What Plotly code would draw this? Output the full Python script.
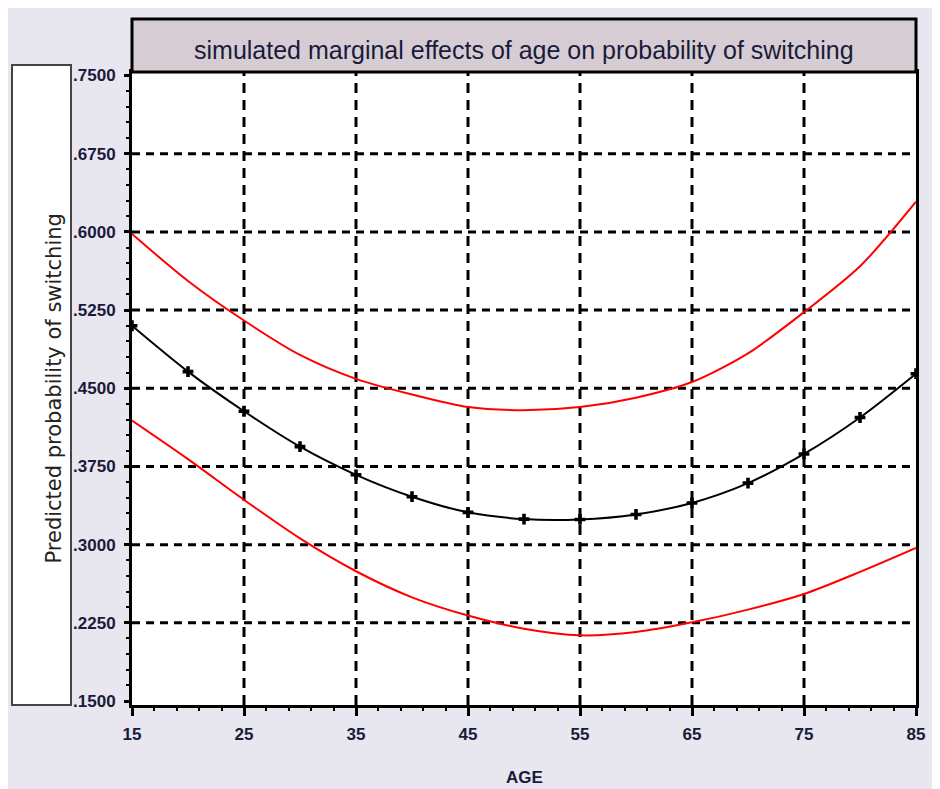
import plotly.graph_objects as go

# ---- data ----
age = [15, 20, 25, 30, 35, 40, 45, 50, 55, 60, 65, 70, 75, 80, 85]
prob_mean = [0.510, 0.466, 0.428, 0.394, 0.367, 0.346, 0.331, 0.3245, 0.3242,
             0.329, 0.340, 0.359, 0.387, 0.422, 0.464]
prob_upper = [0.598, 0.553, 0.515, 0.482, 0.459, 0.444, 0.432, 0.429, 0.432,
              0.441, 0.456, 0.4835, 0.523, 0.567, 0.629]
prob_lower = [0.419, 0.382, 0.343, 0.306, 0.2745, 0.2495, 0.232, 0.2194, 0.213,
              0.2162, 0.2255, 0.2377, 0.2527, 0.2739, 0.2969]

x_ticks = [15, 25, 35, 45, 55, 65, 75, 85]
x_tick_labels = ["15", "25", "35", "45", "55", "65", "75", "85"]
y_ticks = [0.15, 0.225, 0.30, 0.375, 0.45, 0.525, 0.60, 0.675, 0.75]
y_tick_labels = [".1500", ".2250", ".3000", ".3750", ".4500", ".5250", ".6000", ".6750", ".7500"]

title_text = "simulated marginal effects of age on probability of switching"
y_title = "Predicted probability of switching"
x_title = "AGE"

# ---- figure ----
fig = go.Figure()
fig.add_trace(go.Scatter(x=age, y=prob_upper, mode="lines",
                         line=dict(color="#ff0000", width=2, shape="spline", smoothing=0.8),
                         showlegend=False, hoverinfo="skip"))
fig.add_trace(go.Scatter(x=age, y=prob_lower, mode="lines",
                         line=dict(color="#ff0000", width=2, shape="spline", smoothing=0.8),
                         showlegend=False, hoverinfo="skip"))
fig.add_trace(go.Scatter(x=age, y=prob_mean, mode="lines+markers",
                         line=dict(color="#000000", width=2, shape="spline", smoothing=0.8),
                         marker=dict(symbol="cross", size=9, color="#000000"),
                         showlegend=False))

grid_line = dict(color="#000000", width=3, dash="8px,6px")
for v in y_ticks[1:-1]:
    fig.add_shape(type="line", xref="paper", x0=0, x1=1, yref="y", y0=v, y1=v, line=grid_line, layer="below")
for v in x_ticks[1:-1]:
    fig.add_shape(type="line", yref="paper", y0=0, y1=1, xref="x", x0=v, x1=v,
                  line=dict(color="#000000", width=3, dash="10px,7px"), layer="below")

plot_h = 633.0
plot_w = 784.0
# title box
fig.add_shape(type="rect", xref="paper", yref="paper", x0=0, x1=1, y0=1, y1=1 + 53 / plot_h,
              fillcolor="#d6cdd4", line=dict(color="#000000", width=3))
# y label box
fig.add_shape(type="rect", xref="paper", yref="paper", x0=-120 / plot_w, x1=-61 / plot_w, y0=0,
              y1=1 + 7 / plot_h, fillcolor="#ffffff", line=dict(color="#444444", width=2))

tick_font = dict(family="Liberation Sans", size=17, color="#1a1a3a", weight="bold")
fig.add_annotation(text=title_text, xref="paper", yref="paper", x=0.5, y=1 + 22 / plot_h,
                   showarrow=False, xanchor="center", yanchor="middle",
                   font=dict(family="Liberation Sans", size=25, color="#1a1a3a"))
fig.add_annotation(text=y_title, xref="paper", yref="paper", x=-79 / plot_w, y=0.5,
                   showarrow=False, textangle=-90, xanchor="center", yanchor="middle",
                   font=dict(family="DejaVu Sans", size=21, color="#222222"))
fig.add_annotation(text=x_title, xref="paper", yref="paper", x=0.5, y=-73 / plot_h,
                   showarrow=False, xanchor="center", yanchor="middle",
                   font=tick_font)

fig.update_xaxes(range=[15, 85], tickvals=x_ticks, ticktext=x_tick_labels,
                 showgrid=False, zeroline=False,
                 showline=True, linecolor="#000000", linewidth=3, mirror=True,
                 ticks="outside", ticklen=8, tickwidth=3, tickcolor="#000000",
                 minor=dict(dtick=2, tick0=15, ticks="outside", ticklen=3, tickwidth=2,
                            tickcolor="#000000", showgrid=False),
                 tickfont=tick_font, ticklabelstandoff=4)
fig.update_yaxes(range=[0.1462, 0.7534], tickvals=y_ticks, ticktext=y_tick_labels,
                 showgrid=False, zeroline=False,
                 showline=True, linecolor="#000000", linewidth=3, mirror=True,
                 ticks="outside", ticklen=5, tickwidth=3, tickcolor="#000000",
                 minor=dict(dtick=0.015, tick0=0.15, ticks="outside", ticklen=3, tickwidth=2,
                            tickcolor="#000000", showgrid=False),
                 tickfont=tick_font, ticklabelstandoff=5)

fig.update_layout(width=932, height=781,
                  margin=dict(l=124, r=24, t=64, b=84),
                  paper_bgcolor="#e8e6ee", plot_bgcolor="#ffffff")

fig.write_html("out.html")
